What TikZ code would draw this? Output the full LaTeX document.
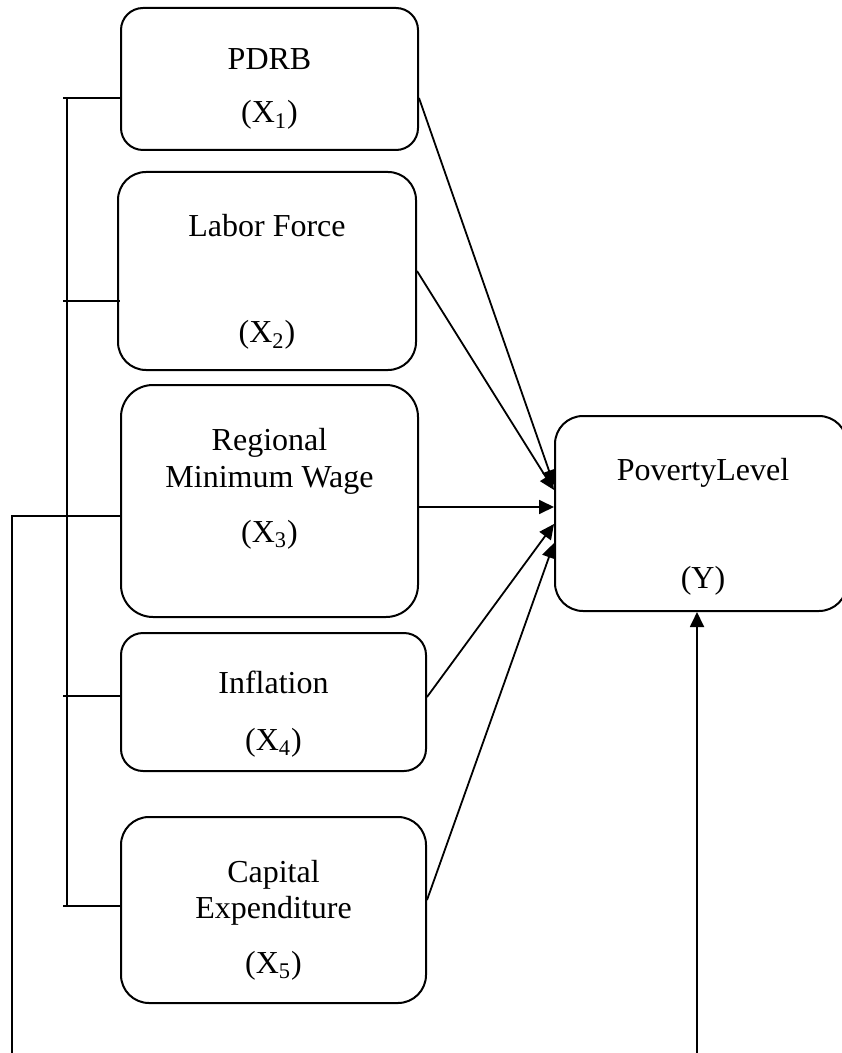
\documentclass[tikz,border=0pt]{standalone}
\usepackage{fontspec}
\setmainfont{Liberation Serif}
\usetikzlibrary{arrows.meta}

\tikzset{
  var/.style={draw, line width=1pt, rounded corners=#1, inner sep=0pt},
  lbl/.style={anchor=base, inner sep=0pt, font=\fontsize{16}{19}\selectfont},
  link/.style={line width=0.9pt},
  arr/.style={link, -{Triangle[length=7.5pt,width=7pt]}}
}

\begin{document}
\begin{tikzpicture}[x=0.5pt,y=-0.5pt]
    \useasboundingbox (0,0) rectangle (841,1053);
    % boxes
    \node[var=11pt, minimum width=148.5pt, minimum height=71pt] (x1) at (269.5,79) {};
    \node[var=14pt, minimum width=149pt, minimum height=99pt] (x2) at (267,271) {};
    \node[var=16pt, minimum width=148.5pt, minimum height=116pt] (x3) at (269.5,501) {};
    \node[var=11pt, minimum width=152.5pt, minimum height=69pt] (x4) at (273.5,702) {};
    \node[var=14pt, minimum width=152.5pt, minimum height=93pt] (x5) at (273.5,910) {};
    \node[var=14pt, minimum width=146pt, minimum height=97.5pt] (y) at (701,513.5) {};
    % texts
    \node[lbl] (n1) at (269.5,70) {PDRB};
    \node[lbl] (s1) at (269.5,123) {(X\textsubscript{1})};
    \node[lbl] (n2) at (267,237) {Labor Force};
    \node[lbl] (s2) at (267,343) {(X\textsubscript{2})};
    \node[lbl] (n3a) at (269.5,450) {Regional};
    \node[lbl] (n3b) at (269.5,487) {Minimum Wage};
    \node[lbl] (s3) at (269.5,542) {(X\textsubscript{3})};
    \node[lbl] (n4) at (273.5,693) {Inflation};
    \node[lbl] (s4) at (273.5,750) {(X\textsubscript{4})};
    \node[lbl] (n5a) at (273.5,882) {Capital};
    \node[lbl] (n5b) at (273.5,918) {Expenditure};
    \node[lbl] (s5) at (273.5,973) {(X\textsubscript{5})};
    \node[lbl] (ny) at (703,480) {PovertyLevel};
    \node[lbl] (sy) at (703,588) {(Y)};
    % arrows into Y
    \draw[arr] ([yshift=-9.5pt]x1.east) -- ([yshift=14.25pt]y.west);
    \draw[arr] (x2.east) -- ([yshift=11.75pt]y.west);
    \draw[arr] ([yshift=-3pt]x3.east) -- ([yshift=3.25pt]y.west);
    \draw[arr] ([yshift=2.5pt]x4.east) -- ([yshift=-5.25pt]y.west);
    \draw[arr] ([yshift=5pt]x5.east) -- ([yshift=-14.75pt]y.west);
    \coordinate (yin) at (697,1053);
    \draw[arr] (yin) -- (yin |- y.south);
    % left bracket
    \coordinate (v1) at (67,98); \coordinate (v2) at (67,906);
    \draw[link] (v1) -- (v2);
    \coordinate (t1) at (63,98); \draw[link] (t1) -- (t1 -| x1.west);
    \coordinate (t2) at (63,301); \draw[link] (t2) -- (t2 -| x1.west);
    \coordinate (t3) at (63,696); \draw[link] (t3) -- (t3 -| x4.west);
    \coordinate (t4) at (63,906); \draw[link] (t4) -- (t4 -| x5.west);
    % outer line
    \coordinate (o1) at (12,1053); \coordinate (o2) at (12,516);
    \draw[link] (o1) -- (o2) -- (o2 -| x3.west);
\end{tikzpicture}
\end{document}
